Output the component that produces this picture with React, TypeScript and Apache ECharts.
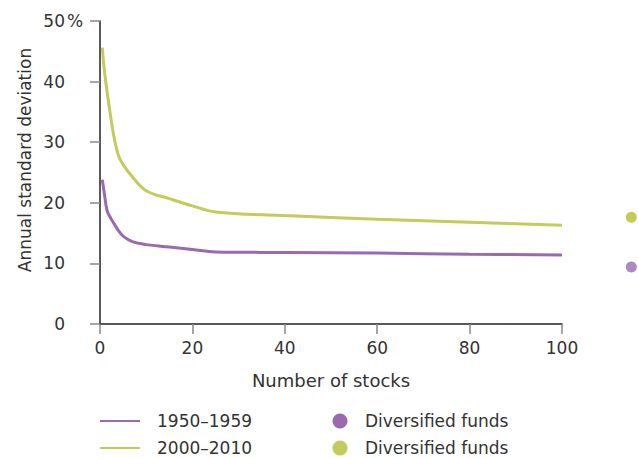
import React, { useEffect, useRef } from "react";
import * as echarts from "echarts";

const xTicks = [0, 20, 40, 60, 80, 100];
const yTicks = [0, 10, 20, 30, 40, 50];

const series1950X = [0.5, 1, 1.5, 2, 3, 4, 5, 7, 10, 15, 20, 25, 40, 60, 80, 100];
const series1950Y = [23.8, 21.2, 18.8, 17.9, 16.6, 15.4, 14.5, 13.6, 13.1, 12.7, 12.3, 11.9, 11.8, 11.7, 11.5, 11.4];

const series2000X = [0.5, 1, 2, 3, 4, 5, 7, 10, 15, 20, 25, 40, 60, 80, 100];
const series2000Y = [45.6, 41.5, 35.8, 31, 27.8, 26.3, 24.3, 22, 20.7, 19.5, 18.5, 17.9, 17.3, 16.8, 16.3];

const fundsX = [115, 115];
const fundsY = [9.4, 17.6];

const legendLabels = ["1950–1959", "2000–2010", "Diversified funds", "Diversified funds"];
const yAxisTitle = "Annual standard deviation";
const xAxisTitle = "Number of stocks";

const PURPLE = "#9a6ab0";
const GREEN = "#c3cb5a";
const GREEN_DOT = "#b5bf2a";
const FONT = "DejaVu Sans, Liberation Sans, Arial, sans-serif";
const TXT = "#333333";
const FS = 17;

export default function App() {
  const ref = useRef<HTMLDivElement>(null);
  useEffect(() => {
    if (!ref.current) return;
    const chart = echarts.init(ref.current, null, { renderer: "svg" });
    const zip = (xs: number[], ys: number[]) => xs.map((x, i) => [x, ys[i]]);
    const textEl = (x: number, y: number, text: string, extra: any = {}) => ({
      type: "text",
      x,
      y,
      style: { text, fontSize: FS, fill: TXT, verticalAlign: "middle", fontFamily: FONT, ...extra },
    });
    chart.setOption({
      animation: false,
      textStyle: { fontFamily: FONT },
      grid: { left: 100, right: 76, top: 21, bottom: 134 },
      xAxis: {
        type: "value",
        min: 0,
        max: 100,
        interval: 20,
        name: xAxisTitle,
        nameLocation: "middle",
        nameGap: 47,
        nameTextStyle: { fontSize: 18, color: TXT, fontFamily: FONT },
        axisLine: { show: true, lineStyle: { color: "#222", width: 1.5 } },
        axisTick: { show: true, length: 10, lineStyle: { color: "#888", width: 1.5 } },
        axisLabel: { fontSize: FS, color: TXT, margin: 15, fontFamily: FONT },
        splitLine: { show: false },
      },
      yAxis: {
        type: "value",
        min: 0,
        max: 50,
        interval: 10,
        axisLine: { show: true, lineStyle: { color: "#222", width: 1.5 } },
        axisTick: { show: true, length: 10, lineStyle: { color: "#888", width: 1.5 } },
        axisLabel: {
          fontSize: FS,
          color: TXT,
          margin: 35,
          fontFamily: FONT,
        },
        splitLine: { show: false },
      },
      series: [
        {
          type: "line",
          name: legendLabels[0],
          data: zip(series1950X, series1950Y),
          smooth: 0.4,
          showSymbol: false,
          lineStyle: { color: PURPLE, width: 3 },
          itemStyle: { color: PURPLE },
        },
        {
          type: "line",
          name: legendLabels[1],
          data: zip(series2000X, series2000Y),
          smooth: 0.4,
          showSymbol: false,
          lineStyle: { color: GREEN, width: 3 },
          itemStyle: { color: GREEN },
        },
        {
          type: "scatter",
          clip: false,
          symbolSize: 11,
          data: [
            { value: [fundsX[0], fundsY[0]], itemStyle: { color: PURPLE } },
            { value: [fundsX[1], fundsY[1]], itemStyle: { color: GREEN_DOT } },
          ],
        },
      ],
      graphic: [
        textEl(67, 21, "%"),
        { type: "text", x: 25, y: 160, rotation: Math.PI / 2, style: { text: yAxisTitle, fontSize: FS, fill: TXT, align: "center", verticalAlign: "middle", fontFamily: FONT } },
        { type: "line", shape: { x1: 100, y1: 421, x2: 140, y2: 421 }, style: { stroke: PURPLE, lineWidth: 2 } },
        { type: "line", shape: { x1: 100, y1: 448, x2: 140, y2: 448 }, style: { stroke: GREEN, lineWidth: 2 } },
        textEl(157, 421, legendLabels[0]),
        textEl(157, 448, legendLabels[1]),
        { type: "circle", shape: { cx: 340, cy: 421, r: 7.5 }, style: { fill: PURPLE } },
        { type: "circle", shape: { cx: 340, cy: 448, r: 7.5 }, style: { fill: GREEN } },
        textEl(365, 421, legendLabels[2]),
        textEl(365, 448, legendLabels[3]),
      ],
    });
    return () => chart.dispose();
  }, []);
  return <div ref={ref} style={{ width: 638, height: 458, position: "absolute", left: 0, top: 0 }} />;
}
